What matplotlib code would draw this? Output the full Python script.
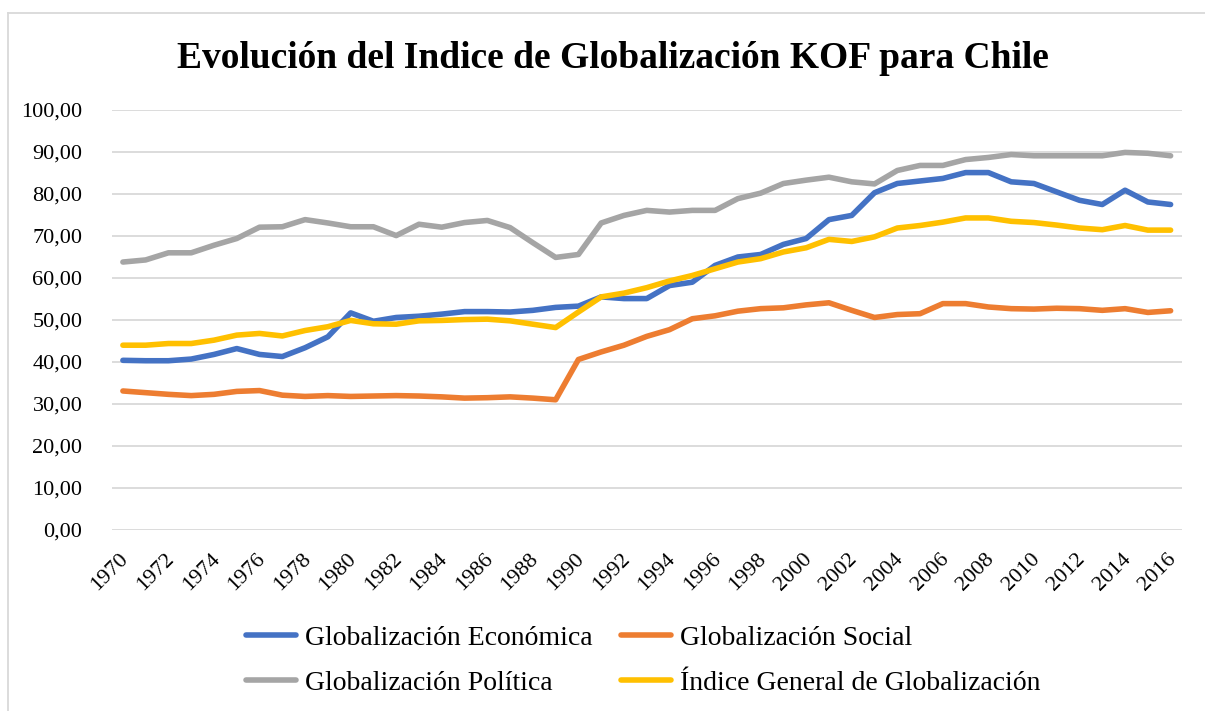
import matplotlib
matplotlib.use("Agg")
import matplotlib.pyplot as plt
from matplotlib.lines import Line2D
from matplotlib.ticker import FuncFormatter
from matplotlib.transforms import ScaledTranslation

plt.rcParams['font.family'] = ['Liberation Serif', 'DejaVu Serif']

years = list(range(1970, 2017))

economica = [40.4, 40.3, 40.3, 40.7, 41.8, 43.2, 41.8, 41.3, 43.4, 46.0,
             51.7, 49.7, 50.6, 50.9, 51.4, 52.0, 52.0, 51.9, 52.3, 53.0,
             53.3, 55.5, 55.1, 55.1, 58.2, 59.0, 63.0, 65.0, 65.6, 68.0,
             69.4, 73.9, 74.9, 80.3, 82.5, 83.1, 83.7, 85.1, 85.1, 82.9,
             82.5, 80.5, 78.5, 77.5, 80.9, 78.1, 77.5]

social = [33.1, 32.7, 32.3, 32.0, 32.3, 33.0, 33.2, 32.1, 31.8, 32.0,
          31.8, 31.9, 32.0, 31.9, 31.7, 31.4, 31.5, 31.7, 31.4, 31.0,
          40.6, 42.4, 44.0, 46.1, 47.7, 50.3, 51.0, 52.1, 52.7, 52.9,
          53.6, 54.1, 52.3, 50.6, 51.3, 51.5, 53.9, 53.9, 53.1, 52.7,
          52.6, 52.8, 52.7, 52.3, 52.7, 51.8, 52.2]

politica = [63.8, 64.3, 66.0, 66.0, 67.8, 69.4, 72.1, 72.2, 73.9, 73.1,
            72.2, 72.2, 70.1, 72.8, 72.1, 73.2, 73.7, 72.0, 68.4, 64.9,
            65.6, 73.1, 74.9, 76.1, 75.7, 76.1, 76.1, 78.9, 80.2, 82.5,
            83.3, 84.0, 82.9, 82.4, 85.6, 86.8, 86.8, 88.2, 88.7, 89.4,
            89.1, 89.1, 89.1, 89.1, 89.9, 89.7, 89.1]

general = [44.0, 44.0, 44.4, 44.4, 45.2, 46.4, 46.8, 46.2, 47.5, 48.4,
           49.9, 49.1, 49.0, 49.8, 49.9, 50.1, 50.2, 49.8, 49.0, 48.2,
           51.9, 55.5, 56.4, 57.7, 59.3, 60.6, 62.2, 63.8, 64.6, 66.2,
           67.2, 69.2, 68.7, 69.8, 71.9, 72.5, 73.3, 74.3, 74.3, 73.5,
           73.2, 72.6, 71.9, 71.5, 72.5, 71.4, 71.4]

labels = ["Globalización Económica", "Globalización Social",
          "Globalización Política", "Índice General de Globalización"]
colors = ["#4472C4", "#ED7D31", "#A5A5A5", "#FFC000"]
title = "Evolución del Indice de Globalización KOF para Chile"

W, H = 1205, 711
fig = plt.figure(figsize=(W / 100, H / 100), dpi=100)
ax = fig.add_axes([111.5 / W, 1 - 530 / H, (1182 - 111.5) / W, 420 / H])

series = [economica, social, politica, general]
handles = []
for vals, lab, col in zip(series, labels, colors):
    h, = ax.plot(years, vals, color=col, lw=4.0, label=lab,
                 solid_capstyle='round', solid_joinstyle='round')
    handles.append(h)

ax.set_xlim(1969.5, 2016.5)
ax.set_ylim(0, 100)
ax.set_yticks(range(0, 101, 10))
ax.yaxis.set_major_formatter(FuncFormatter(lambda v, p: f"{v:.2f}".replace('.', ',')))
ax.set_xticks(years[::2])
ax.set_xticklabels([str(y) for y in years[::2]], rotation=45, ha='right',
                   rotation_mode='anchor', va='center')
ax.grid(axis='y', color='#D9D9D9', lw=1.3)
ax.set_axisbelow(True)
for s in ax.spines.values():
    s.set_visible(False)
ax.tick_params(axis='both', length=0, labelsize=16, colors='black')
ax.tick_params(axis='y', pad=21)
ax.tick_params(axis='x', pad=19)
shift = ScaledTranslation(3 / 100, 0, fig.dpi_scale_trans)
for lbl in ax.get_xticklabels():
    lbl.set_transform(lbl.get_transform() + shift)

fig.text(613 / W, 1 - 59 / H, title, ha='center', va='center',
         fontsize=27, fontweight='bold')

order = [0, 2, 1, 3]
leg = fig.legend([handles[i] for i in order], [labels[i] for i in order],
                 ncol=2, loc='upper left', bbox_to_anchor=(240 / W, 1 - 620 / H),
                 frameon=False, fontsize=20, handlelength=1.8,
                 handletextpad=0.35, columnspacing=1.0, labelspacing=0.7,
                 borderpad=0.2, borderaxespad=0)

# chart area border (partially visible in the reference)
fig.add_artist(Line2D([8 / W, 1.0], [1 - 13 / H, 1 - 13 / H], color='#D9D9D9', lw=1.3))
fig.add_artist(Line2D([8 / W, 8 / W], [1 - 13 / H, 0.0], color='#D9D9D9', lw=1.3))

fig.savefig("out.png", dpi=100)
